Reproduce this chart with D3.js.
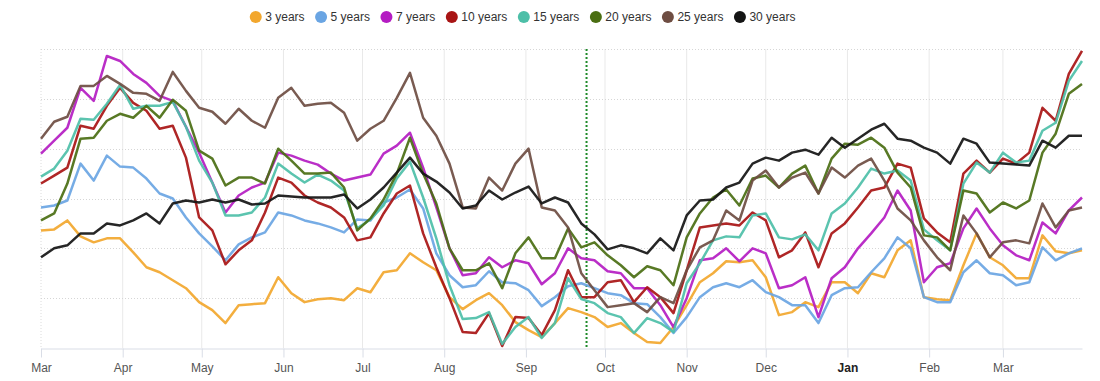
<!DOCTYPE html>
<html>
<head>
<meta charset="utf-8">
<script src="https://cdn.jsdelivr.net/npm/d3@7"></script>
<style>
  body { margin: 0; background: #fff; }
  #chart { width: 1100px; height: 381px; }
</style>
</head>
<body>
<div id="chart"></div>
<script>

//Series names and colors
var keys = ["3 years", "5 years", "7 years", "10 years", "15 years", "20 years", "25 years", "30 years"];
var colors = ["#f2a72e", "#6aa5e3", "#b41cc2", "#a81414", "#4dbfa8", "#4a6e12", "#6e4d42", "#141414"];

//Every 5th day from 1 Mar 2022 to 31 Mar 2023
var startDate = new Date(2022, 2, 1);
var endDate = new Date(2023, 2, 31);
var dates = d3.timeDay.range(startDate, d3.timeDay.offset(endDate, 1), 5);

//Marked date (dotted green line)
var markerDate = new Date(2022, 8, 24);

//Values (no unit shown on the chart)
var y3 = [118, 119, 128, 112, 106, 110, 110, 96, 81, 76, 68, 60, 46, 38, 25, 43, 44, 45, 71, 55,
          46, 49, 50, 48, 60, 56, 76, 78, 95, 86, 78, 51, 39, 48, 55, 43, 26, 18, 11, 25,
          40, 36, 31, 21, 25, 15, 6, 5, 21, 43, 66, 75, 87, 86, 88, 71, 33, 36, 46, 41,
          66, 66, 55, 75, 71, 98, 108, 51, 49, 48, 83, 115, 91, 83, 70, 70, 113, 97, 95, 98];
var y5 = [141, 143, 148, 185, 168, 193, 182, 181, 170, 155, 150, 131, 115, 102, 88, 104, 111, 116, 136, 133,
          128, 125, 121, 116, 129, 128, 146, 151, 159, 140, 95, 73, 61, 63, 77, 66, 65, 58, 42, 51,
          62, 65, 60, 55, 53, 45, 44, 31, 15, 31, 51, 61, 65, 61, 68, 56, 51, 43, 43, 25,
          53, 60, 61, 76, 90, 111, 100, 51, 46, 46, 76, 88, 75, 73, 63, 66, 101, 88, 95, 100];
var y7 = [195, 208, 221, 261, 248, 293, 288, 275, 266, 253, 248, 222, 196, 166, 136, 153, 161, 166, 196, 193,
          188, 184, 175, 168, 171, 174, 195, 203, 216, 181, 141, 100, 73, 75, 91, 81, 88, 85, 64, 75,
          100, 90, 88, 77, 75, 60, 60, 43, 21, 50, 88, 90, 100, 87, 100, 95, 60, 63, 71, 31,
          70, 81, 100, 115, 131, 158, 138, 66, 81, 85, 120, 140, 120, 103, 93, 88, 126, 115, 138, 151];
var y10 = [165, 173, 181, 223, 220, 243, 261, 246, 238, 220, 223, 191, 131, 118, 84, 98, 108, 136, 171, 166,
           153, 146, 141, 131, 108, 111, 135, 155, 163, 115, 81, 50, 16, 15, 35, 2, 31, 30, 13, 38,
           78, 51, 51, 66, 68, 46, 61, 51, 35, 78, 121, 123, 125, 123, 136, 128, 91, 98, 116, 81,
           115, 125, 141, 158, 161, 185, 181, 130, 116, 106, 175, 188, 176, 190, 185, 196, 241, 228, 275, 298];
var y15 = [172, 180, 198, 230, 229, 245, 264, 240, 243, 243, 247, 222, 188, 166, 133, 133, 136, 151, 185, 175,
           166, 174, 168, 158, 120, 129, 143, 170, 187, 151, 110, 63, 29, 30, 36, 4, 21, 31, 10, 25,
           70, 49, 45, 35, 31, 15, 30, 25, 16, 65, 85, 108, 112, 111, 133, 135, 111, 109, 114, 98,
           135, 145, 161, 180, 175, 178, 168, 119, 108, 98, 165, 186, 176, 196, 186, 188, 218, 226, 268, 288];
var y20 = [128, 135, 165, 210, 211, 228, 235, 231, 243, 231, 249, 238, 198, 190, 163, 171, 171, 165, 200, 188,
           175, 175, 176, 161, 118, 130, 149, 175, 211, 175, 145, 100, 78, 78, 85, 60, 95, 111, 90, 90,
           120, 101, 106, 93, 83, 71, 82, 78, 63, 111, 135, 151, 159, 143, 170, 173, 161, 175, 183, 155,
           190, 205, 204, 211, 201, 176, 161, 113, 111, 98, 158, 155, 136, 146, 140, 148, 196, 215, 255, 265];
var y25 = [210, 227, 232, 263, 263, 273, 265, 256, 255, 248, 277, 258, 241, 237, 225, 240, 228, 221, 251, 261,
           243, 245, 246, 236, 208, 220, 228, 251, 276, 231, 213, 185, 141, 140, 171, 158, 185, 200, 141, 138,
           121, 75, 58, 41, 43, 45, 36, 51, 45, 78, 101, 108, 138, 128, 168, 178, 161, 171, 176, 155,
           181, 171, 183, 190, 168, 140, 128, 108, 91, 78, 133, 115, 91, 106, 108, 105, 145, 121, 138, 141];
var y30 = [91, 100, 103, 115, 115, 125, 123, 128, 135, 125, 145, 148, 146, 149, 146, 149, 144, 145, 153, 152,
           151, 151, 151, 154, 140, 149, 161, 176, 191, 175, 167, 156, 140, 143, 158, 149, 156, 162, 145, 151,
           146, 125, 114, 99, 103, 100, 95, 110, 98, 133, 148, 149, 161, 166, 185, 191, 188, 196, 199, 194,
           211, 201, 210, 219, 225, 210, 208, 201, 196, 185, 210, 205, 186, 185, 184, 183, 208, 201, 213, 213];

var seriesValues = [y3, y5, y7, y10, y15, y20, y25, y30];

//Chart size
var w = 1100;
var h = 381;
var margin = {top: 49, right: 18, bottom: 33, left: 41};

var x = d3.scaleTime()
    .domain([startDate, endDate])
    .range([margin.left, w - margin.right]);

var y = d3.scaleLinear()
    .domain([0, 300])
    .range([h - margin.bottom, margin.top]);

var chart = d3.select("#chart")
    .append("svg")
    .attr("width", w)
    .attr("height", h)
    .style("font-family", "'Liberation Sans', Arial, sans-serif");

//Vertical month gridlines
var months = d3.timeMonth.range(startDate, d3.timeDay.offset(endDate, 1));

chart.append("g")
    .attr("class", "xgrid")
    .selectAll("line")
    .data(months)
    .enter()
    .append("line")
    .attr("x1", d => x(d))
    .attr("x2", d => x(d))
    .attr("y1", y(300))
    .attr("y2", y(0))
    .style("stroke", (d, i) => i == 0 ? "#dcdcdc" : "#e9e9e9")
    .style("stroke-dasharray", (d, i) => i == 0 ? "1,2" : null)
    .style("stroke-width", 1);

//Horizontal dotted gridlines
chart.append("g")
    .attr("class", "ygrid")
    .selectAll("line")
    .data(y.ticks(6).filter(d => d > 0))
    .enter()
    .append("line")
    .attr("x1", x(startDate))
    .attr("x2", x(endDate))
    .attr("y1", d => Math.round(y(d)) + 0.5)
    .attr("y2", d => Math.round(y(d)) + 0.5)
    .style("stroke", "#d6d6d6")
    .style("stroke-dasharray", "1,2")
    .style("stroke-width", 1);

//X axis
var xAxis = chart.append("g")
    .attr("class", "xaxis")
    .attr("transform", "translate(0," + (Math.round(y(0)) + 0.5) + ")")
    .call(d3.axisBottom(x)
        .tickValues(months)
        .tickFormat(d3.timeFormat("%b"))
        .tickSize(9)
        .tickPadding(6)
        .tickSizeOuter(0));

xAxis.select(".domain").style("stroke", "#d9dde6");
xAxis.selectAll(".tick line").style("stroke", "#d9dde6");
xAxis.selectAll(".tick text")
    .style("font-size", "12px")
    .style("fill", "#555")
    .style("font-family", "'Liberation Sans', Arial, sans-serif")
    .style("font-weight", d => d.getMonth() == 0 ? "bold" : "normal")
    .style("fill", d => d.getMonth() == 0 ? "#222" : "#555");

//Dotted green marker line
chart.append("line")
    .attr("x1", x(markerDate))
    .attr("x2", x(markerDate))
    .attr("y1", y(300))
    .attr("y2", y(0))
    .style("stroke", "#1f8a2a")
    .style("stroke-width", 2)
    .style("stroke-dasharray", "2,2");

//Lines
var line = d3.line()
    .x((d, i) => x(dates[i]))
    .y(d => y(d));

chart.append("g")
    .attr("class", "lines")
    .selectAll("path")
    .data(seriesValues)
    .enter()
    .append("path")
    .attr("d", line)
    .style("fill", "none")
    .style("stroke", (d, i) => colors[i])
    .style("stroke-width", 2.5)
    .style("stroke-linejoin", "round")
    .style("opacity", 0.92);

//Legend
var legend = chart.append("g")
    .attr("class", "legend");

var items = legend.selectAll("g")
    .data(keys)
    .enter()
    .append("g");

items.append("circle")
    .attr("r", 6)
    .attr("cx", 0)
    .attr("cy", 17)
    .style("fill", (d, i) => colors[i]);

items.append("text")
    .attr("x", 9.5)
    .attr("y", 17)
    .attr("dy", "0.35em")
    .style("font-size", "12px")
    .style("fill", "#333")
    .text(d => d);

//Place the legend items one after another, centred
var offsets = [];
var pos = 0;
items.each(function(d, i) {
    offsets.push(pos);
    var tw = d3.select(this).select("text").node().getComputedTextLength();
    pos += 9.5 + tw + 16.5;
});
var total = pos - 16.5 + 6;
var legendLeft = 522.6 - total / 2 + 6;
items.attr("transform", (d, i) => "translate(" + (legendLeft + offsets[i]) + ",0)");

</script>
</body>
</html>
